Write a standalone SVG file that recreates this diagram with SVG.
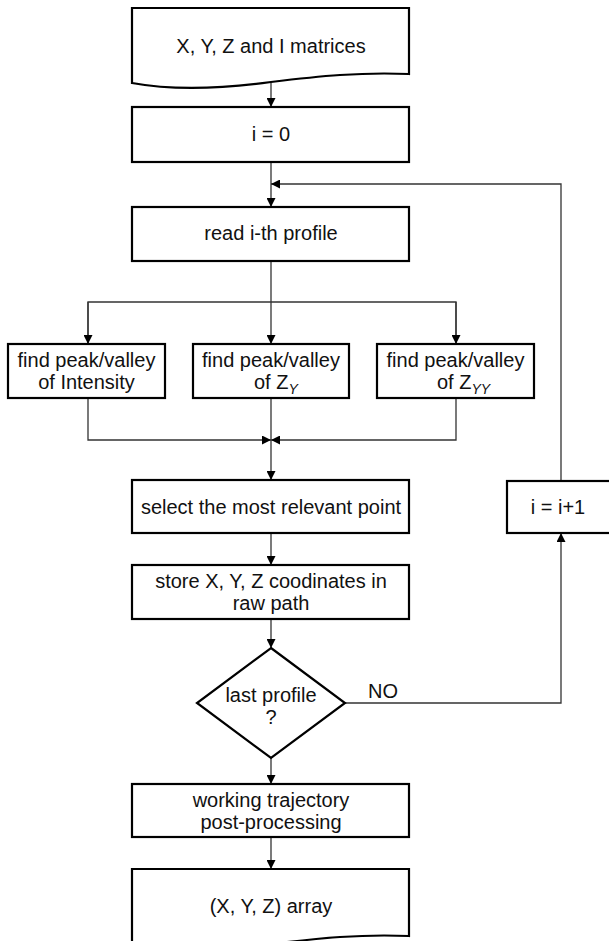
<svg xmlns="http://www.w3.org/2000/svg" width="609" height="941" viewBox="0 0 609 941">
<style>
.box{fill:#fff;stroke:#000;stroke-width:2.2}
.c{fill:none;stroke:#333;stroke-width:1.3}
text{font-family:"Liberation Sans",Arial,sans-serif;font-size:20px;fill:#111;text-anchor:middle}
.st{text-anchor:start}
.sub{font-size:14px;font-style:italic}
</style>
<defs>
<marker id="ah" markerUnits="userSpaceOnUse" markerWidth="9" markerHeight="9" refX="9" refY="4.5" orient="auto">
<path d="M0,0 L9,4.5 L0,9 z" fill="#000"/>
</marker>
</defs>
<rect width="609" height="941" fill="#fff"/>
<g id="connectors">
<path class="c" d="M271,83 V107" marker-end="url(#ah)"/>
<path class="c" d="M271,162 V207" marker-end="url(#ah)"/>
<path class="c" d="M561,481 V184 H271" marker-end="url(#ah)"/>
<path class="c" d="M271,261 V344" marker-end="url(#ah)"/>
<path class="c" d="M88,344 V302 H456 V344" />
<path class="c" d="M88,302 V344" marker-end="url(#ah)"/>
<path class="c" d="M456,302 V344" marker-end="url(#ah)"/>
<path class="c" d="M88,398 V440 H271" marker-end="url(#ah)"/>
<path class="c" d="M456,398 V440 H271" marker-end="url(#ah)"/>
<path class="c" d="M271,398 V480" marker-end="url(#ah)"/>
<path class="c" d="M271,533 V565" marker-end="url(#ah)"/>
<path class="c" d="M271,619 V648" marker-end="url(#ah)"/>
<path class="c" d="M271,758 V784" marker-end="url(#ah)"/>
<path class="c" d="M271,837 V869" marker-end="url(#ah)"/>
<path class="c" d="M345,703 H561 V533" marker-end="url(#ah)"/>
<text class="st" x="368" y="698">NO</text>
</g>
<g id="input">
<path class="box" d="M132,8 H409 V74 C360,72 320,76 271,82 C220,89 170,90 132,83 Z"/>
<text x="271" y="53">X, Y, Z and I matrices</text>
</g>
<g id="init">
<rect class="box" x="132" y="107" width="277" height="55"/>
<text x="271" y="141">i = 0</text>
</g>
<g id="read">
<rect class="box" x="132" y="207" width="277" height="54"/>
<text x="271" y="240">read i-th profile</text>
</g>
<g id="findI">
<rect class="box" x="8" y="344" width="157" height="54"/>
<text x="86.5" y="367">find peak/valley</text>
<text x="86.5" y="389">of Intensity</text>
</g>
<g id="findZY">
<rect class="box" x="193" y="344" width="156" height="54"/>
<text x="271" y="367">find peak/valley</text>
<text class="st" x="254" y="389">of Z<tspan class="sub" dy="5">Y</tspan></text>
</g>
<g id="findZYY">
<rect class="box" x="377" y="344" width="157" height="54"/>
<text x="455.5" y="367">find peak/valley</text>
<text class="st" x="437" y="389">of Z<tspan class="sub" dy="5">YY</tspan></text>
</g>
<g id="select">
<rect class="box" x="132" y="480" width="277" height="53"/>
<text x="271" y="514">select the most relevant point</text>
</g>
<g id="store">
<rect class="box" x="132" y="565" width="277" height="54"/>
<text x="271" y="588">store X, Y, Z coodinates in</text>
<text x="271" y="610">raw path</text>
</g>
<g id="decision">
<path class="box" d="M271,648 L345,703 L271,758 L197,703 Z"/>
<text x="271" y="702">last profile</text>
<text x="271" y="724">?</text>
</g>
<g id="increment">
<rect class="box" x="507" y="481" width="106" height="52"/>
<text x="558" y="514">i = i+1</text>
</g>
<g id="post">
<rect class="box" x="132" y="784" width="277" height="53"/>
<text x="271" y="807">working trajectory</text>
<text x="271" y="829">post-processing</text>
</g>
<g id="output">
<path class="box" d="M132,869 H409 V936 C360,934 320,938 271,944 C220,951 170,952 132,945 Z"/>
<text x="271" y="913">(X, Y, Z) array</text>
</g>
</svg>
